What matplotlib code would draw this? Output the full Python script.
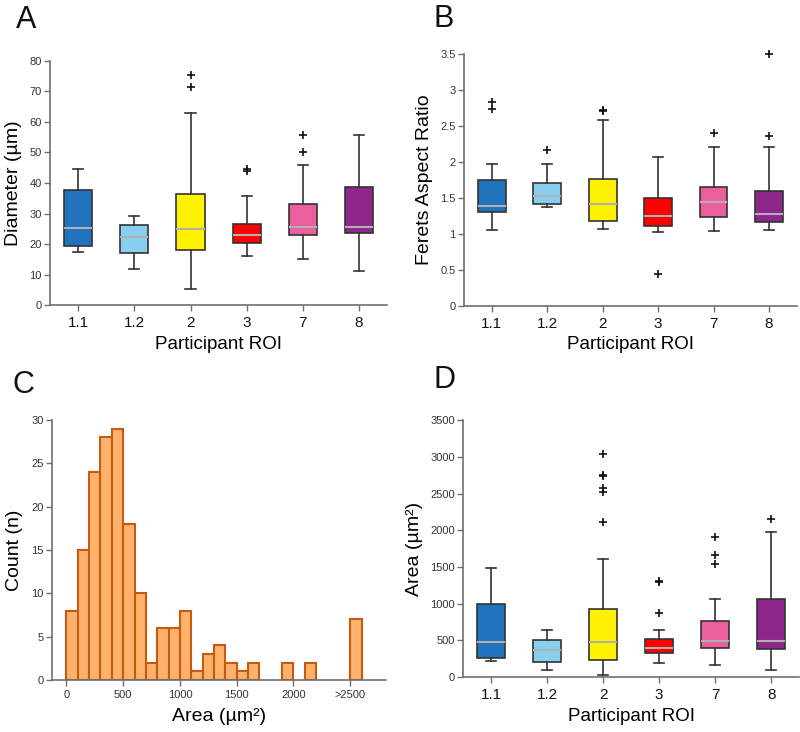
import matplotlib
matplotlib.use("Agg")
import matplotlib.pyplot as plt

plt.rcParams['font.family'] = ['Liberation Sans', 'DejaVu Sans']

rois = ["1.1", "1.2", "2", "3", "7", "8"]
box_colors = ["#1f72bb", "#87cfec", "#fff200", "#ff0000", "#ec5f9f", "#8e268c"]

# five-number summaries: low whisker, Q1, median, Q3, high whisker
diam_stats = [
    [17.5, 19.2, 25.4, 37.7, 44.7],
    [11.7, 17.0, 22.2, 26.1, 29.3],
    [5.4, 18.0, 24.9, 36.3, 62.8],
    [16.2, 20.4, 22.8, 26.7, 35.8],
    [15.1, 23.0, 25.7, 33.2, 45.8],
    [11.3, 23.5, 25.7, 38.8, 55.7],
]
diam_fliers = [[], [], [75.4, 71.4], [44.5, 43.9], [55.8, 50.2], []]

feret_stats = [
    [1.05, 1.30, 1.39, 1.755, 1.97],
    [1.38, 1.42, 1.53, 1.713, 1.97],
    [1.063, 1.175, 1.42, 1.764, 2.59],
    [1.03, 1.105, 1.244, 1.50, 2.075],
    [1.04, 1.23, 1.44, 1.657, 2.205],
    [1.06, 1.17, 1.28, 1.59, 2.21],
]
feret_fliers = [[2.83, 2.74], [2.17], [2.72, 2.71], [0.436], [2.40], [3.51, 2.36]]

area_stats = [
    [218, 255, 473, 1000, 1491],
    [95, 200, 364, 500, 641],
    [23, 236, 473, 932, 1614],
    [191, 323, 391, 523, 645],
    [159, 395, 495, 768, 1059],
    [95, 382, 495, 1059, 1982],
]
area_fliers = [[], [], [3036, 2750, 2740, 2573, 2527, 2114], [1305, 1295, 877],
               [1904, 1659, 1536], [2159]]

# histogram of area, bin starts (width 100) and counts
hist_left = [0, 100, 200, 300, 400, 500, 600, 700, 800, 900, 1000, 1100, 1200,
             1300, 1400, 1500, 1600, 1900, 2100, 2500]
hist_count = [8, 15, 24, 28, 29, 18, 10, 2, 6, 6, 8, 1, 3, 4, 2, 1, 2, 2, 2, 7]
hist_ticks = [0, 500, 1000, 1500, 2000, 2500]
hist_ticklabels = ["0", "500", "1000", "1500", "2000", ">2500"]

spine_col = "#6f6f6f"
tick_col = "#333333"


def style_axes(ax):
    for s in ["top", "right"]:
        ax.spines[s].set_visible(False)
    for s in ["left", "bottom"]:
        ax.spines[s].set_color(spine_col)
        ax.spines[s].set_linewidth(1.2)
    ax.tick_params(axis="both", colors=spine_col, length=4, width=1)
    ax.tick_params(axis="y", labelsize=8, labelcolor=tick_col, pad=2)


def box_panel(ax, stats, fliers, ylim, yticks, ylabel):
    bxp = []
    for i, s in enumerate(stats):
        bxp.append(dict(whislo=s[0], q1=s[1], med=s[2], q3=s[3], whishi=s[4],
                        fliers=fliers[i], label=rois[i]))
    pos = list(range(1, len(rois) + 1))
    res = ax.bxp(bxp, positions=pos, widths=0.5, patch_artist=True,
                 showfliers=True, capwidths=0.18,
                 boxprops=dict(edgecolor="#333333", linewidth=1.2),
                 medianprops=dict(color="#b0b0b0", linewidth=1.5),
                 whiskerprops=dict(color="#333333", linewidth=1.2),
                 capprops=dict(color="#333333", linewidth=1.2),
                 flierprops=dict(marker="+", markeredgecolor="#111111",
                                 markersize=6, markeredgewidth=1.2))
    for patch, c in zip(res["boxes"], box_colors):
        patch.set_facecolor(c)
    for f in res["fliers"]:
        f.set_clip_on(False)
    ax.set_xlim(0.5, 6.5)
    ax.set_ylim(*ylim)
    ax.set_yticks(yticks)
    ax.set_yticklabels([("%g" % t) for t in yticks])
    ax.set_xticks(pos)
    ax.set_xticklabels(rois)
    style_axes(ax)
    ax.tick_params(axis="x", labelsize=11, labelcolor="#111111", pad=4)
    ax.set_xlabel("Participant ROI", fontsize=13.5, labelpad=4)
    ax.set_ylabel(ylabel, fontsize=14, labelpad=5)


fig = plt.figure(figsize=(8, 7.32), dpi=100)

axA = fig.add_axes([0.0625, 0.5833, 0.4215, 0.3334])
box_panel(axA, diam_stats, diam_fliers, (0, 80), list(range(0, 81, 10)), "Diameter (µm)")

axB = fig.add_axes([0.580, 0.5824, 0.416, 0.3434])
box_panel(axB, feret_stats, feret_fliers, (0, 3.5),
          [0, 0.5, 1, 1.5, 2, 2.5, 3, 3.5], "Ferets Aspect Ratio")

axC = fig.add_axes([0.065, 0.071, 0.4175, 0.3552])
axC.bar(hist_left, hist_count, width=100, align="edge", color="#ffb26b",
        edgecolor="#c65a12", linewidth=1.5)
axC.set_xlim(-127, 2815)
axC.set_ylim(0, 30)
axC.set_yticks(range(0, 31, 5))
axC.set_xticks(hist_ticks)
axC.set_xticklabels(hist_ticklabels)
style_axes(axC)
axC.tick_params(axis="x", labelsize=8, labelcolor=tick_col, pad=3)
axC.set_xlabel("Area (µm²)", fontsize=14, labelpad=6)
axC.set_ylabel("Count (n)", fontsize=14, labelpad=6)

axD = fig.add_axes([0.579, 0.0751, 0.42, 0.3507])
box_panel(axD, area_stats, area_fliers, (0, 3500), list(range(0, 3501, 500)), "Area (µm²)")

for letter, x, y in [("A", 0.02, 0.962), ("B", 0.5425, 0.963),
                     ("C", 0.015, 0.463), ("D", 0.5425, 0.47)]:
    fig.text(x, y, letter, fontsize=22, color="#111111", va="baseline")

fig.savefig("out.png", dpi=100)
